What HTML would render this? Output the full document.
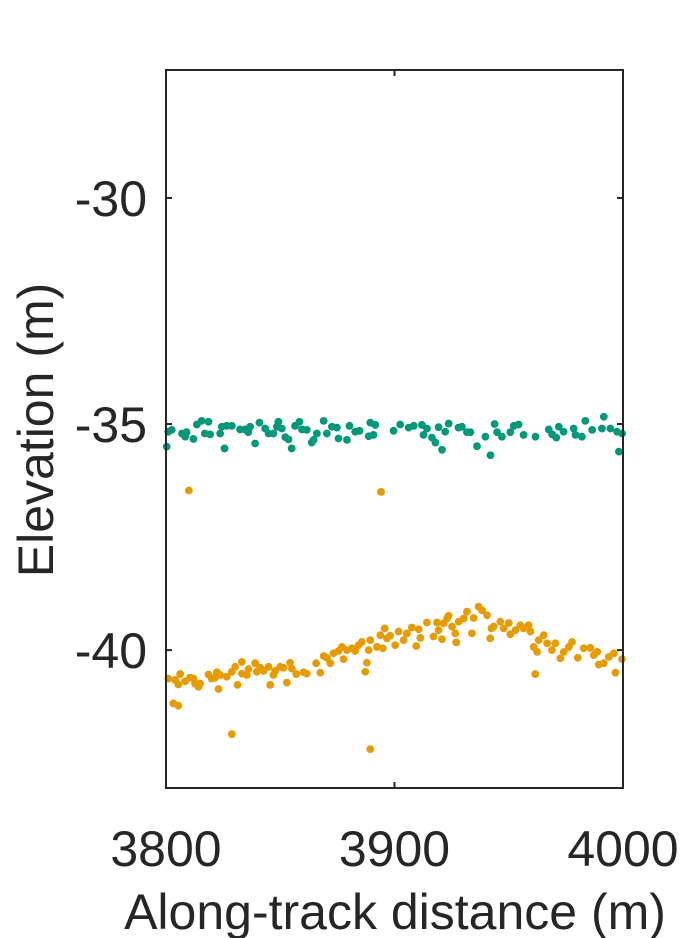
<!DOCTYPE html>
<html><head><meta charset="utf-8"><style>
html,body{margin:0;padding:0;background:#fff;}
svg{display:block;font-family:"Liberation Sans",sans-serif;}
</style></head><body>
<svg id="chart" width="688" height="938" viewBox="0 0 688 938" xmlns="http://www.w3.org/2000/svg">
<g id="marks"></g>
<g id="axes"></g>
</svg>
<script>
const xTicks=[3800,3900,4000];
const yTicks=[-30,-35,-40];
const xDomain=[3800,4000];
const yDomain=[-43.05,-27.17];
const greenX=[3800.3,3801,3802.5,3807,3808.4,3809,3812,3813.5,3815.6,3817,3818.6,3819.3,3823.7,3824.4,3825.6,3826.6,3828.8,3832.4,3834.6,3836,3836.8,3839,3840.9,3843.4,3844.9,3847,3848.5,3849.2,3850.7,3852.2,3853.6,3855,3856.5,3858.4,3859.5,3861.6,3863.8,3864.6,3866,3869,3870.4,3872.6,3874.8,3875.5,3879.2,3880.3,3882.8,3884.7,3888.7,3889.4,3891.6,3890.8,3899.6,3902.5,3906.2,3908.4,3912,3912.7,3914.2,3916.4,3917.9,3919.3,3920.8,3922.2,3923.7,3928,3929.5,3931.7,3933.2,3936.1,3939.8,3942,3943.8,3944.9,3947,3950.7,3952.2,3954.3,3956.5,3961.7,3967.5,3969,3970.8,3971.9,3974,3978.4,3979.2,3982,3983.5,3986.5,3990.8,3991.6,3994.5,3997.4,3998.2,3999.6];
const greenY=[-35.5,-35.17,-35.13,-35.21,-35.28,-35.18,-35.33,-35.01,-34.93,-35.21,-34.95,-35.23,-35.21,-35.06,-35.54,-35.04,-35.04,-35.12,-35.12,-35.18,-35.06,-35.43,-34.97,-35.1,-35.21,-35.21,-35.06,-34.95,-35.1,-35.29,-35.34,-35.54,-35.04,-34.95,-35.12,-35.13,-35.41,-35.35,-35.21,-34.93,-35.21,-35.06,-35.08,-35.32,-35.35,-35.04,-35.17,-35.15,-35.27,-34.97,-35.02,-35.24,-35.15,-35.01,-35.08,-35.04,-35.02,-35.24,-35.1,-35.3,-35.41,-35.07,-35.57,-35.17,-34.99,-35.08,-35.06,-35.18,-35.18,-35.49,-35.28,-35.69,-35,-35.18,-35.28,-35.18,-35.04,-35.01,-35.24,-35.28,-35.12,-35.23,-35.3,-35.06,-35.17,-35.1,-35.24,-35.28,-34.93,-35.13,-35.1,-34.84,-35.1,-35.17,-35.61,-35.21];
const orangeX=[3801,3803.2,3805.4,3804,3805.4,3806.2,3808.4,3810.5,3812,3812.7,3814.2,3814.9,3818.6,3820,3821.5,3822.2,3823,3823.7,3826.6,3828.8,3828.8,3830.3,3831.3,3833.2,3833.2,3835.4,3836.1,3839,3839.7,3841.2,3842.7,3844.9,3845.6,3847,3847.8,3850,3851.4,3852.9,3854.3,3855.1,3857,3860.2,3861.6,3865.7,3867.5,3869,3870.4,3871.9,3873.3,3875.5,3877,3877.7,3879.2,3881.4,3882.8,3884.3,3885.7,3887.2,3887.9,3888.7,3889.4,3889.4,3892.3,3893.8,3894.9,3895.7,3896.7,3898.1,3900.3,3901.8,3904,3905.4,3907.6,3909.5,3910.6,3911.3,3914.2,3917.1,3918.6,3919.3,3920.8,3921.5,3923,3923.7,3925.2,3926.6,3927,3928.1,3930.3,3931.7,3933.9,3934.6,3936.8,3938.3,3940.5,3941.9,3942.4,3943.4,3946.3,3947.8,3950,3950.7,3952.9,3955.1,3956.5,3958.7,3959.5,3960.9,3961.6,3962.4,3963.1,3965.3,3966.8,3968.9,3970.4,3972.6,3974.1,3976.3,3977.7,3980.2,3982.8,3985.7,3987.2,3988.7,3989.4,3991.6,3993.8,3996,3996.7,3999.6,3810,3894.1];
const orangeY=[-40.63,-41.18,-41.23,-40.66,-40.76,-40.53,-40.69,-40.61,-40.63,-40.74,-40.81,-40.74,-40.54,-40.63,-40.61,-40.49,-40.86,-40.55,-40.59,-40.48,-41.86,-40.37,-40.77,-40.26,-40.52,-40.55,-40.42,-40.29,-40.48,-40.39,-40.46,-40.37,-40.77,-40.55,-40.46,-40.37,-40.39,-40.72,-40.28,-40.41,-40.53,-40.49,-40.52,-40.29,-40.5,-40.13,-40.17,-40.29,-40.07,-40.02,-39.93,-40.2,-40,-39.96,-40.02,-39.89,-39.82,-40.48,-40.28,-40,-39.78,-42.19,-39.93,-39.67,-39.96,-39.52,-39.74,-39.68,-39.89,-39.59,-39.78,-39.63,-39.5,-39.91,-39.54,-39.73,-39.39,-39.7,-39.39,-39.56,-39.76,-39.41,-39.3,-39.24,-39.48,-39.63,-39.83,-39.37,-39.3,-39.15,-39.63,-39.29,-39.04,-39.12,-39.23,-39.74,-39.52,-39.48,-39.37,-39.52,-39.4,-39.65,-39.56,-39.45,-39.52,-39.45,-39.59,-39.93,-40.53,-40.04,-39.78,-39.67,-39.85,-40,-39.85,-40.18,-40.04,-39.93,-39.82,-40.17,-39.96,-39.95,-40.11,-40.04,-40.32,-40.29,-40.15,-40.07,-40.5,-40.2,-36.47,-36.5];

const L=166,R=623,T=70,B=788;
const NS='http://www.w3.org/2000/svg';
function sx(v){return L+(v-xDomain[0])/(xDomain[1]-xDomain[0])*(R-L);}
function sy(v){return B-(v-yDomain[0])/(yDomain[1]-yDomain[0])*(B-T);}
function mk(tag,attrs,parent){const e=document.createElementNS(NS,tag);for(const k in attrs)e.setAttribute(k,attrs[k]);parent.appendChild(e);return e;}
const marks=document.getElementById('marks'),axes=document.getElementById('axes');
const gG=mk('g',{},marks);


greenX.forEach((x,i)=>{const c=mk('circle',{cx:sx(x),cy:sy(greenY[i]),r:3.9,fill:'#009878'},gG);

});
const gO=mk('g',{},marks);


orangeX.forEach((x,i)=>{const c=mk('circle',{cx:sx(x),cy:sy(orangeY[i]),r:3.9,fill:'#E69C00'},gO);

});
const box=mk('rect',{x:L,y:T,width:R-L,height:B-T,fill:'none',stroke:'#262626','stroke-width':2},axes);


xTicks.forEach(v=>{const x=sx(v);
mk('line',{x1:x,x2:x,y1:B,y2:B-6,stroke:'#262626','stroke-width':2},axes);
mk('line',{x1:x,x2:x,y1:T,y2:T+6,stroke:'#262626','stroke-width':2},axes);
const t=mk('text',{x:x,y:866,'text-anchor':'middle','font-size':50,fill:'#262626'},axes);t.textContent=v;

});
yTicks.forEach(v=>{const y=sy(v);
mk('line',{x1:L,x2:L+6,y1:y,y2:y,stroke:'#262626','stroke-width':2},axes);
mk('line',{x1:R,x2:R-6,y1:y,y2:y,stroke:'#262626','stroke-width':2},axes);
const t=mk('text',{x:147,y:y+18,'text-anchor':'end','font-size':50,fill:'#262626'},axes);t.textContent=v;

});
const xl=mk('text',{x:395,y:929,'text-anchor':'middle','font-size':50,fill:'#262626'},axes);xl.textContent='Along-track distance (m)';


const yl=mk('text',{x:0,y:0,'text-anchor':'middle','font-size':50,fill:'#262626',transform:'translate(53,430) rotate(-90)'},axes);yl.textContent='Elevation (m)';


</script>
</body></html>
